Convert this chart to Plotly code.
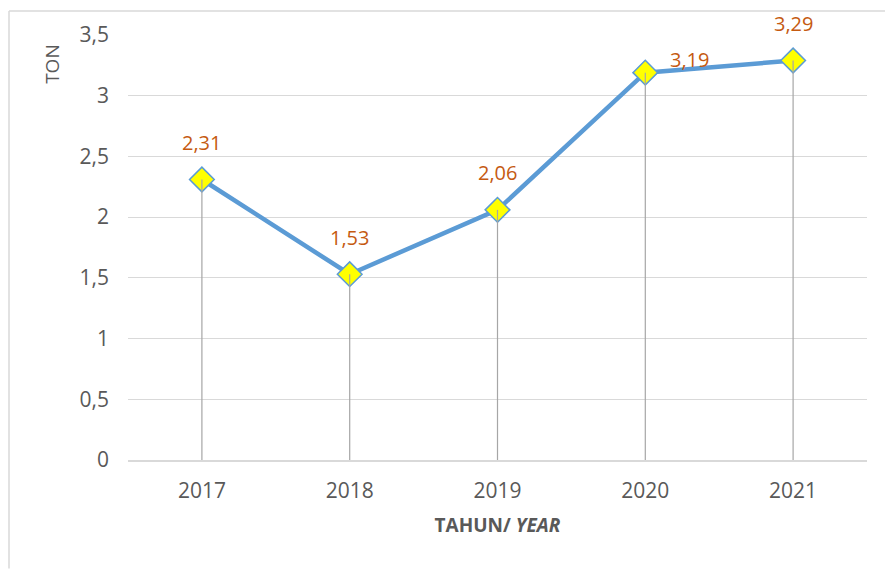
import plotly.graph_objects as go

years = ["2017", "2018", "2019", "2020", "2021"]
values = [2.31, 1.53, 2.06, 3.19, 3.29]
labels = ["2,31", "1,53", "2,06", "3,19", "3,29"]
y_ticks = [0, 0.5, 1, 1.5, 2, 2.5, 3, 3.5]
y_ticktext = ["0", "0,5", "1", "1,5", "2", "2,5", "3", "3,5"]

font_family = "Open Sans, Noto Sans, Liberation Sans, sans-serif"
grey_text = "#595959"

W, H = 885, 561
L, R, T, B = 120, 26, 25, 109
pw, ph = W - L - R, H - T - B

fig = go.Figure()

# main line with markers
fig.add_trace(go.Scatter(
    x=years, y=values, mode="lines+markers",
    line=dict(color="#5B9BD5", width=4.5),
    marker=dict(symbol="diamond", size=19, color="#FFFF00",
                line=dict(color="#5B9BD5", width=1.5)),
    hoverinfo="skip", showlegend=False,
))

# drop lines (drawn on top of markers)
fig.add_trace(go.Scatter(
    x=years, y=values, mode="markers",
    marker=dict(size=1, color="rgba(0,0,0,0)"),
    error_y=dict(type="data", symmetric=False, array=[0] * len(values),
                 arrayminus=values, width=0, color="#A6A6A6", thickness=1.2),
    hoverinfo="skip", showlegend=False,
))

# data labels
for i, (yr, v, lab) in enumerate(zip(years, values, labels)):
    if yr == "2020":
        xs, ys = 44, 13
    else:
        xs, ys = 0, 37
    fig.add_annotation(x=i, y=v, xref="x", yref="y", text=lab, showarrow=False,
                       xshift=xs, yshift=ys,
                       font=dict(color="#C55A11", size=20, family=font_family))

# y axis title placed near the top
fig.add_annotation(x=(44 - L) / pw, y=(T + ph - 54) / ph, xref="paper", yref="paper",
                   xanchor="center", yanchor="middle",
                   text="TON", textangle=-90, showarrow=False,
                   font=dict(size=19, color=grey_text, family=font_family))

# outer border (top and left edges)
top = 1 + (T - 1) / ph
left = -(L - 1) / pw
fig.add_shape(type="line", xref="paper", yref="paper",
              x0=left, x1=1 + R / pw, y0=top, y1=top,
              line=dict(color="#D9D9D9", width=1.5))
fig.add_shape(type="line", xref="paper", yref="paper",
              x0=left, x1=left, y0=-B / ph, y1=top,
              line=dict(color="#D9D9D9", width=1.5))

fig.update_layout(
    width=W, height=H,
    margin=dict(l=L, r=R, t=T, b=B),
    paper_bgcolor="white", plot_bgcolor="white",
    font=dict(family=font_family, color=grey_text, size=21),
    xaxis=dict(
        type="category", range=[-0.5, 4.5],
        showgrid=False, showline=True, linecolor="#D9D9D9", linewidth=1.5,
        ticks="", tickfont=dict(size=21, color=grey_text),
        ticklabelstandoff=11,
        title=dict(text="<b>TAHUN/ <i>YEAR</i></b>",
                   font=dict(size=19, color=grey_text), standoff=16),
        fixedrange=True,
    ),
    yaxis=dict(
        range=[0, 3.5], tickvals=y_ticks, ticktext=y_ticktext,
        showgrid=True, gridcolor="#D9D9D9", gridwidth=1.2,
        zeroline=False, showline=False, ticks="",
        tickfont=dict(size=21, color=grey_text),
        ticklabelstandoff=18,
        fixedrange=True,
    ),
)

fig.write_html("out.html")
